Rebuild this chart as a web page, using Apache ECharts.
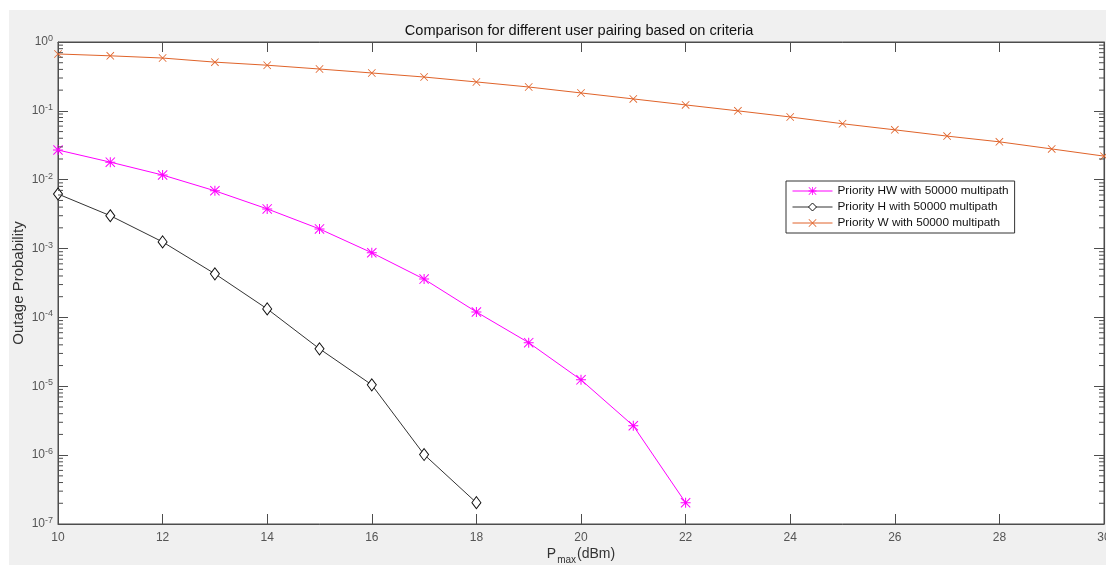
<!DOCTYPE html>
<html><head><meta charset="utf-8">
<script src="https://cdn.jsdelivr.net/npm/echarts@6/dist/echarts.min.js"></script>
<style>html,body{margin:0;padding:0;background:#fff}#c{width:1106px;height:565px}</style>
</head><body><div id="c"></div>
<script>
const xValues = [10,11,12,13,14,15,16,17,18,19,20,21,22,23,24,25,26,27,28,29,30];
const hwValues = [0.027,0.018,0.0117,0.0069,0.00377,0.00193,0.00087,0.00036,1.2e-4,4.3e-5,1.24e-5,2.67e-6,2.04e-7];
const hValues = [0.0062,0.003,0.00125,4.3e-4,1.33e-4,3.5e-5,1.05e-5,1.02e-6,2.04e-7];
const wValues = [0.67,0.63,0.585,0.51,0.46,0.405,0.355,0.31,0.263,0.222,0.182,0.149,0.122,0.1,0.0815,0.065,0.053,0.043,0.0355,0.028,0.022];
const seriesNames = ['Priority HW with 50000 multipath','Priority H with 50000 multipath','Priority W with 50000 multipath'];
const yTickExps = [-7,-6,-5,-4,-3,-2,-1,0];

const asterisk = 'path://M9 0L11 0L11 20L9 20Z M0 9L20 9L20 11L0 11Z M1.4 0L20 18.6L18.6 20L0 1.4Z M18.6 0L20 1.4L1.4 20L0 18.6Z';
const cross = 'path://M1.4 0L20 18.6L18.6 20L0 1.4Z M18.6 0L20 1.4L1.4 20L0 18.6Z';

const pair = (xs, ys) => ys.map((v, i) => [xs[i], v]);
const minorVals = [];
for (let d = -7; d < 0; d++) for (let m = 2; m <= 9; m++) minorVals.push([10, m * Math.pow(10, d)]);

const axisCol = '#4d4d4d';
const font = 'Liberation Sans, Arial, sans-serif';
const chart = echarts.init(document.getElementById('c'));
chart.setOption({
  backgroundColor: '#f0f0f0',
  animation: false,
  graphic: [
    {type:'rect', shape:{x:0,y:0,width:1106,height:10}, style:{fill:'#fff'}, silent:true},
    {type:'rect', shape:{x:0,y:0,width:9,height:565}, style:{fill:'#fff'}, silent:true}
  ],
  title: {
    text: 'Comparison for different user pairing based on criteria',
    left: 574, top: 18, textAlign: 'center',
    textStyle: {fontFamily: font, fontSize: 14.6, fontWeight: 'normal', color: '#111'}
  },
  grid: {left: 58, right: 2, top: 42, bottom: 41, show: true, backgroundColor: '#fff',
         borderColor: axisCol, borderWidth: 1, containLabel: false, outerBoundsMode: 'none'},
  legend: {
    orient: 'vertical', left: 786, top: 181,
    backgroundColor: '#fff', borderColor: '#333', borderWidth: 1, borderRadius: 0,
    padding: [4, 6, 4, 6], itemGap: 4, itemWidth: 40, itemHeight: 10,
    data: seriesNames,
    lineStyle: {width: 1},
    itemStyle: {borderWidth: 1},
    textStyle: {fontFamily: font, fontSize: 11.8, color: '#111'}
  },
  xAxis: [{
    type: 'value', min: 10, max: 30, interval: 2,
    name: 'P{sub|max}(dBm)', nameLocation: 'middle', nameGap: 19, nameMoveOverlap: false,
    nameTextStyle: {fontFamily: font, fontSize: 14, color: '#333',
      rich: {sub: {fontFamily: font, fontSize: 10, color: '#333', padding: [12, 1, 0, 1]}}},
    axisLine: {lineStyle: {color: axisCol}},
    axisTick: {inside: true, length: 10, lineStyle: {color: axisCol}},
    axisLabel: {color: '#555', fontFamily: font, fontSize: 12, margin: 8},
    splitLine: {show: false}
  }, {
    type: 'value', min: 10, max: 30, interval: 2, position: 'top',
    axisLine: {lineStyle: {color: axisCol}},
    axisTick: {inside: true, length: 10, lineStyle: {color: axisCol}},
    axisLabel: {show: false}, splitLine: {show: false}
  }],
  yAxis: [{
    type: 'log', logBase: 10, min: 1e-7, max: 1,
    name: 'Outage Probability', nameLocation: 'middle', nameGap: 32, nameMoveOverlap: false,
    nameTextStyle: {fontFamily: font, fontSize: 15, color: '#333'},
    axisLine: {lineStyle: {color: axisCol}},
    axisTick: {inside: true, length: 10, lineStyle: {color: axisCol}},
    axisLabel: {
      color: '#555', margin: 5,
      formatter: v => { const e = Math.round(Math.log10(v)); return yTickExps.includes(e) ? '{b|10}{s|' + e + '}' : ''; },
      rich: {b: {fontSize: 12, fontFamily: font, color: '#555'},
             s: {fontSize: 9, fontFamily: font, color: '#555', verticalAlign: 'top', padding: [0,0,7,0]}}
    },
    splitLine: {show: false}
  }, {
    type: 'log', logBase: 10, min: 1e-7, max: 1, position: 'right',
    axisLine: {lineStyle: {color: axisCol}},
    axisTick: {inside: true, length: 10, lineStyle: {color: axisCol}},
    axisLabel: {show: false}, splitLine: {show: false}
  }],
  series: [
    {
      name: seriesNames[0], type: 'line', data: pair(xValues, hwValues),
      symbol: asterisk, symbolSize: 10, showAllSymbol: true,
      lineStyle: {color: '#ff00ff', width: 1}, itemStyle: {color: '#ff00ff'}, z: 3
    },
    {
      name: seriesNames[1], type: 'line', data: pair(xValues, hValues),
      symbol: 'diamond', symbolSize: [9, 12], showAllSymbol: true,
      lineStyle: {color: '#333', width: 1}, itemStyle: {color: '#fff', borderColor: '#111', borderWidth: 1}, z: 3
    },
    {
      name: seriesNames[2], type: 'line', data: pair(xValues, wValues),
      symbol: cross, symbolSize: 8, showAllSymbol: true,
      lineStyle: {color: '#e0632a', width: 1}, itemStyle: {color: '#e0632a'}, z: 3
    },
    {
      name: 'minorTicks', type: 'custom', coordinateSystem: 'cartesian2d',
      xAxisIndex: 0, yAxisIndex: 0, encode: {x: 0, y: 1},
      data: minorVals, silent: true, z: 4, clip: false,
      renderItem: function (params, api) {
        const v = api.value(1);
        const l = api.coord([10, v]);
        const r = api.coord([30, v]);
        return {type: 'group', children: [
          {type: 'line', shape: {x1: l[0], y1: l[1], x2: l[0] + 5, y2: l[1]}, style: {stroke: axisCol, lineWidth: 1, fill: null}},
          {type: 'line', shape: {x1: r[0], y1: r[1], x2: r[0] - 5, y2: r[1]}, style: {stroke: axisCol, lineWidth: 1, fill: null}}
        ]};
      }
    }
  ]
});
</script></body></html>
